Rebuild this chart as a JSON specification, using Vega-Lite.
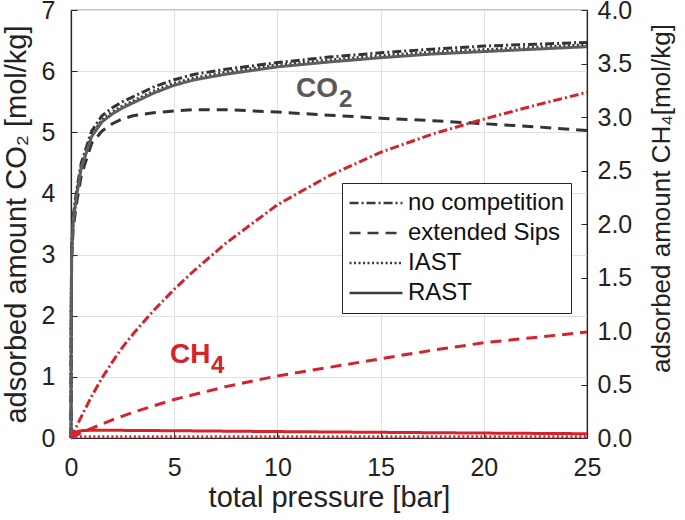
{
  "$schema": "https://vega.github.io/schema/vega-lite/v6.json",
  "width": 516,
  "height": 428,
  "autosize": {"type": "none"},
  "padding": {"left": 71, "top": 10, "right": 98, "bottom": 82},
  "background": "white",
  "config": {
    "font": "Liberation Sans",
    "view": {"stroke": "#262626", "strokeWidth": 1.2},
    "axis": {
      "domainColor": "#262626",
      "tickColor": "#262626",
      "labelColor": "#222222",
      "titleColor": "#222222",
      "labelFont": "Liberation Sans",
      "titleFont": "Liberation Sans",
      "titleFontWeight": "normal",
      "gridColor": "#e0e0e0",
      "gridWidth": 1,
      "domainWidth": 1.2,
      "labelFlush": false,
      "labelOverlap": false
    },
    "legend": {
      "orient": "none",
      "legendX": 271,
      "legendY": 173,
      "direction": "vertical",
      "symbolType": "stroke",
      "symbolSize": 2800,
      "symbolStrokeWidth": 2.5,
      "symbolStrokeColor": "#3a3a3a",
      "clipHeight": 28,
      "rowPadding": 2,
      "labelFontSize": 24,
      "labelFont": "Liberation Sans",
      "labelColor": "#111111",
      "labelOffset": 4,
      "labelLimit": 400,
      "padding": 6,
      "fillColor": "white",
      "strokeColor": "#262626"
    }
  },
  "datasets": {
    "co2": [
      {"P": 0, "q": 0, "method": "no competition"},
      {"P": 0.01, "q": 1.9, "method": "no competition"},
      {"P": 0.03, "q": 3.1, "method": "no competition"},
      {"P": 0.1, "q": 3.6, "method": "no competition"},
      {"P": 0.25, "q": 4.0, "method": "no competition"},
      {"P": 0.5, "q": 4.5, "method": "no competition"},
      {"P": 1, "q": 5.02, "method": "no competition"},
      {"P": 1.5, "q": 5.27, "method": "no competition"},
      {"P": 2, "q": 5.4, "method": "no competition"},
      {"P": 2.5, "q": 5.5, "method": "no competition"},
      {"P": 3, "q": 5.58, "method": "no competition"},
      {"P": 4, "q": 5.74, "method": "no competition"},
      {"P": 5, "q": 5.86, "method": "no competition"},
      {"P": 6, "q": 5.95, "method": "no competition"},
      {"P": 7.5, "q": 6.03, "method": "no competition"},
      {"P": 10, "q": 6.14, "method": "no competition"},
      {"P": 12.5, "q": 6.23, "method": "no competition"},
      {"P": 15, "q": 6.3, "method": "no competition"},
      {"P": 17.5, "q": 6.36, "method": "no competition"},
      {"P": 20, "q": 6.41, "method": "no competition"},
      {"P": 22.5, "q": 6.44, "method": "no competition"},
      {"P": 25, "q": 6.47, "method": "no competition"},
      {"P": 0, "q": 0, "method": "RAST"},
      {"P": 0.01, "q": 1.85, "method": "RAST"},
      {"P": 0.03, "q": 3.0, "method": "RAST"},
      {"P": 0.1, "q": 3.5, "method": "RAST"},
      {"P": 0.25, "q": 3.92, "method": "RAST"},
      {"P": 0.5, "q": 4.42, "method": "RAST"},
      {"P": 1, "q": 4.93, "method": "RAST"},
      {"P": 1.5, "q": 5.17, "method": "RAST"},
      {"P": 2, "q": 5.3, "method": "RAST"},
      {"P": 2.5, "q": 5.4, "method": "RAST"},
      {"P": 3, "q": 5.48, "method": "RAST"},
      {"P": 4, "q": 5.64, "method": "RAST"},
      {"P": 5, "q": 5.77, "method": "RAST"},
      {"P": 6, "q": 5.86, "method": "RAST"},
      {"P": 7.5, "q": 5.95, "method": "RAST"},
      {"P": 10, "q": 6.07, "method": "RAST"},
      {"P": 12.5, "q": 6.15, "method": "RAST"},
      {"P": 15, "q": 6.22, "method": "RAST"},
      {"P": 17.5, "q": 6.28, "method": "RAST"},
      {"P": 20, "q": 6.32, "method": "RAST"},
      {"P": 22.5, "q": 6.36, "method": "RAST"},
      {"P": 25, "q": 6.4, "method": "RAST"},
      {"P": 0, "q": 0, "method": "IAST"},
      {"P": 0.01, "q": 1.88, "method": "IAST"},
      {"P": 0.03, "q": 3.03, "method": "IAST"},
      {"P": 0.1, "q": 3.53, "method": "IAST"},
      {"P": 0.25, "q": 3.95, "method": "IAST"},
      {"P": 0.5, "q": 4.45, "method": "IAST"},
      {"P": 1, "q": 4.96, "method": "IAST"},
      {"P": 1.5, "q": 5.2, "method": "IAST"},
      {"P": 2, "q": 5.33, "method": "IAST"},
      {"P": 2.5, "q": 5.43, "method": "IAST"},
      {"P": 3, "q": 5.51, "method": "IAST"},
      {"P": 4, "q": 5.67, "method": "IAST"},
      {"P": 5, "q": 5.8, "method": "IAST"},
      {"P": 6, "q": 5.89, "method": "IAST"},
      {"P": 7.5, "q": 5.98, "method": "IAST"},
      {"P": 10, "q": 6.1, "method": "IAST"},
      {"P": 12.5, "q": 6.18, "method": "IAST"},
      {"P": 15, "q": 6.25, "method": "IAST"},
      {"P": 17.5, "q": 6.31, "method": "IAST"},
      {"P": 20, "q": 6.35, "method": "IAST"},
      {"P": 22.5, "q": 6.39, "method": "IAST"},
      {"P": 25, "q": 6.43, "method": "IAST"},
      {"P": 0, "q": 0, "method": "extended Sips"},
      {"P": 0.01, "q": 1.8, "method": "extended Sips"},
      {"P": 0.03, "q": 2.9, "method": "extended Sips"},
      {"P": 0.1, "q": 3.4, "method": "extended Sips"},
      {"P": 0.25, "q": 3.8, "method": "extended Sips"},
      {"P": 0.5, "q": 4.3, "method": "extended Sips"},
      {"P": 1, "q": 4.82, "method": "extended Sips"},
      {"P": 1.5, "q": 5.02, "method": "extended Sips"},
      {"P": 2, "q": 5.14, "method": "extended Sips"},
      {"P": 2.5, "q": 5.22, "method": "extended Sips"},
      {"P": 3, "q": 5.27, "method": "extended Sips"},
      {"P": 4, "q": 5.32, "method": "extended Sips"},
      {"P": 5, "q": 5.35, "method": "extended Sips"},
      {"P": 6, "q": 5.37, "method": "extended Sips"},
      {"P": 7.5, "q": 5.37, "method": "extended Sips"},
      {"P": 10, "q": 5.33, "method": "extended Sips"},
      {"P": 12.5, "q": 5.28, "method": "extended Sips"},
      {"P": 15, "q": 5.23, "method": "extended Sips"},
      {"P": 17.5, "q": 5.19, "method": "extended Sips"},
      {"P": 20, "q": 5.14, "method": "extended Sips"},
      {"P": 22.5, "q": 5.09, "method": "extended Sips"},
      {"P": 25, "q": 5.03, "method": "extended Sips"}
    ],
    "ch4": [
      {"P": 0, "q": 0, "method": "no competition"},
      {"P": 0.5, "q": 0.2, "method": "no competition"},
      {"P": 1, "q": 0.39, "method": "no competition"},
      {"P": 1.5, "q": 0.56, "method": "no competition"},
      {"P": 2, "q": 0.71, "method": "no competition"},
      {"P": 2.5, "q": 0.85, "method": "no competition"},
      {"P": 3, "q": 0.97, "method": "no competition"},
      {"P": 4, "q": 1.19, "method": "no competition"},
      {"P": 5, "q": 1.39, "method": "no competition"},
      {"P": 6, "q": 1.57, "method": "no competition"},
      {"P": 7.5, "q": 1.82, "method": "no competition"},
      {"P": 10, "q": 2.18, "method": "no competition"},
      {"P": 12.5, "q": 2.45, "method": "no competition"},
      {"P": 15, "q": 2.67, "method": "no competition"},
      {"P": 17.5, "q": 2.84, "method": "no competition"},
      {"P": 20, "q": 2.98, "method": "no competition"},
      {"P": 22.5, "q": 3.11, "method": "no competition"},
      {"P": 25, "q": 3.23, "method": "no competition"},
      {"P": 0, "q": 0, "method": "extended Sips"},
      {"P": 0.5, "q": 0.05, "method": "extended Sips"},
      {"P": 1, "q": 0.09, "method": "extended Sips"},
      {"P": 2, "q": 0.17, "method": "extended Sips"},
      {"P": 3, "q": 0.24, "method": "extended Sips"},
      {"P": 4, "q": 0.3, "method": "extended Sips"},
      {"P": 5, "q": 0.36, "method": "extended Sips"},
      {"P": 7.5, "q": 0.48, "method": "extended Sips"},
      {"P": 10, "q": 0.58, "method": "extended Sips"},
      {"P": 12.5, "q": 0.66, "method": "extended Sips"},
      {"P": 15, "q": 0.74, "method": "extended Sips"},
      {"P": 17.5, "q": 0.82, "method": "extended Sips"},
      {"P": 20, "q": 0.89, "method": "extended Sips"},
      {"P": 22.5, "q": 0.94, "method": "extended Sips"},
      {"P": 25, "q": 0.99, "method": "extended Sips"},
      {"P": 0, "q": 0, "method": "RAST"},
      {"P": 0.1, "q": 0.035, "method": "RAST"},
      {"P": 0.3, "q": 0.06, "method": "RAST"},
      {"P": 0.6, "q": 0.07, "method": "RAST"},
      {"P": 1, "q": 0.072, "method": "RAST"},
      {"P": 2, "q": 0.072, "method": "RAST"},
      {"P": 5, "q": 0.068, "method": "RAST"},
      {"P": 10, "q": 0.06, "method": "RAST"},
      {"P": 15, "q": 0.053, "method": "RAST"},
      {"P": 20, "q": 0.046, "method": "RAST"},
      {"P": 25, "q": 0.04, "method": "RAST"},
      {"P": 0, "q": 0, "method": "IAST"},
      {"P": 0.1, "q": 0.007, "method": "IAST"},
      {"P": 0.3, "q": 0.011, "method": "IAST"},
      {"P": 1, "q": 0.012, "method": "IAST"},
      {"P": 5, "q": 0.012, "method": "IAST"},
      {"P": 25, "q": 0.011, "method": "IAST"}
    ]
  },
  "encoding": {
    "x": {
      "field": "P",
      "type": "quantitative",
      "scale": {"domain": [0, 25], "nice": false},
      "axis": {
        "title": "total pressure [bar]",
        "values": [0, 5, 10, 15, 20, 25],
        "grid": true,
        "tickSize": -6,
        "labelPadding": 23,
        "labelFontSize": 25,
        "titleFontSize": 29,
        "titleX": 258,
        "titleY": 68,
        "titleBaseline": "alphabetic"
      }
    }
  },
  "layer": [
    {
      "encoding": {
        "y": {
          "field": "q",
          "type": "quantitative",
          "scale": {"domain": [0, 7], "nice": false},
          "axis": {
            "orient": "left",
            "title": "adsorbed amount CO₂ [mol/kg]",
            "values": [0, 1, 2, 3, 4, 5, 6, 7],
            "grid": true,
            "tickSize": -6,
            "labelPadding": 22,
            "labelFontSize": 25,
            "titleFontSize": 29,
            "titleAngle": -90,
            "titleX": -55,
            "titleY": 214,
            "titleBaseline": "middle",
            "titleAlign": "center"
          }
        }
      },
      "layer": [
        {
          "data": {"name": "co2"},
          "transform": [{"filter": "datum.method !== 'RAST'"}],
          "mark": {"type": "line", "strokeWidth": 3, "color": "#333333"},
          "encoding": {
            "strokeDash": {
              "field": "method",
              "type": "nominal",
              "scale": {"domain": ["no competition", "extended Sips", "IAST", "RAST"], "range": [[9, 3, 2, 3], [11, 7], [2, 2.5], [1, 0]]},
              "legend": {"title": null}
            }
          }
        },
        {
          "data": {"name": "co2"},
          "transform": [{"filter": "datum.method === 'RAST'"}],
          "mark": {"type": "line", "strokeWidth": 3, "color": "#5e5e5e"},
          "encoding": {
            "strokeDash": {
              "field": "method",
              "type": "nominal",
              "scale": {"domain": ["no competition", "extended Sips", "IAST", "RAST"], "range": [[9, 3, 2, 3], [11, 7], [2, 2.5], [1, 0]]},
              "legend": {"title": null}
            }
          }
        },
        {
          "data": {"values": [{"P": 10.9, "q": 5.58, "main": "CO", "sub": "2"}]},
          "mark": {"type": "text", "fontSize": 28, "fontWeight": "bold", "fill": "#595959", "align": "left", "baseline": "alphabetic"},
          "encoding": {"text": {"field": "main"}}
        },
        {
          "data": {"values": [{"P": 10.9, "q": 5.58, "main": "CO", "sub": "2"}]},
          "mark": {"type": "text", "fontSize": 24, "fontWeight": "bold", "fill": "#595959", "align": "left", "baseline": "alphabetic", "dx": 43, "dy": 10},
          "encoding": {"text": {"field": "sub"}}
        }
      ]
    },
    {
      "encoding": {
        "y": {
          "field": "q",
          "type": "quantitative",
          "scale": {"domain": [0, 4], "nice": false},
          "axis": {
            "orient": "right",
            "title": "adsorbed amount CH₄[mol/kg]",
            "values": [0, 0.5, 1, 1.5, 2, 2.5, 3, 3.5, 4],
            "format": ".1f",
            "grid": false,
            "tickSize": -6,
            "labelPadding": 16,
            "labelFontSize": 25,
            "titleFontSize": 26,
            "titleAngle": -90,
            "titleX": 74,
            "titleY": 188,
            "titleBaseline": "middle",
            "titleAlign": "center"
          }
        }
      },
      "layer": [
        {
          "data": {"name": "ch4"},
          "mark": {"type": "line", "strokeWidth": 3, "color": "#d4232b"},
          "encoding": {
            "strokeDash": {
              "field": "method",
              "type": "nominal",
              "scale": {"domain": ["no competition", "extended Sips", "IAST", "RAST"], "range": [[9, 3, 2, 3], [11, 7], [2, 2.5], [1, 0]]},
              "legend": {"title": null}
            }
          }
        },
        {
          "data": {"values": [{"P": 4.8, "q": 0.7, "main": "CH", "sub": "4"}]},
          "mark": {"type": "text", "fontSize": 28, "fontWeight": "bold", "fill": "#d4232b", "align": "left", "baseline": "alphabetic"},
          "encoding": {"text": {"field": "main"}}
        },
        {
          "data": {"values": [{"P": 4.8, "q": 0.7, "main": "CH", "sub": "4"}]},
          "mark": {"type": "text", "fontSize": 24, "fontWeight": "bold", "fill": "#d4232b", "align": "left", "baseline": "alphabetic", "dx": 41, "dy": 10},
          "encoding": {"text": {"field": "sub"}}
        }
      ]
    }
  ],
  "resolve": {"scale": {"y": "independent"}}
}
